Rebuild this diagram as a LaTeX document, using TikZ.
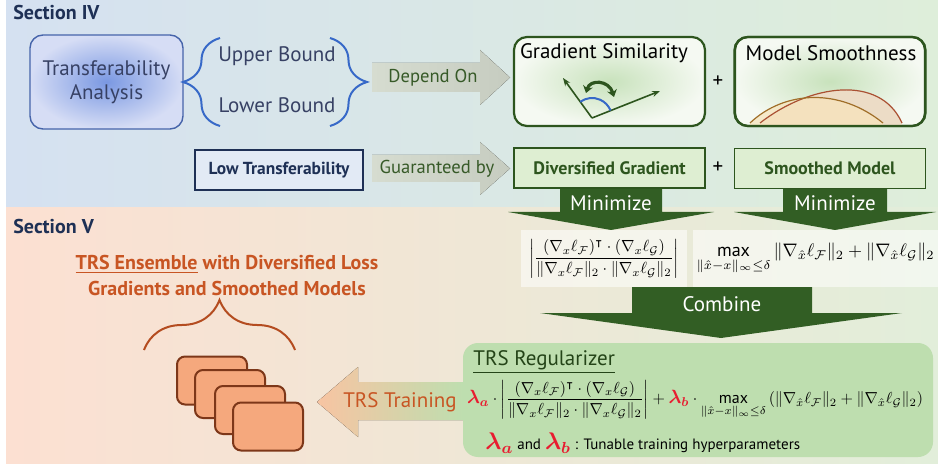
\documentclass[tikz,border=0pt]{standalone}
\usepackage{amsmath,amssymb}
\usepackage{graphicx}
\usepackage{fontspec}
\setmainfont{PT Sans}
\usetikzlibrary{decorations.pathreplacing,arrows.meta}
\definecolor{secblue}{RGB}{30,48,85}
\definecolor{topleft}{RGB}{213,225,241}
\definecolor{topmid}{RGB}{218,232,234}
\definecolor{topright}{RGB}{222,238,218}
\definecolor{botleft}{RGB}{252,224,210}
\definecolor{botmid}{RGB}{246,232,212}
\definecolor{botright}{RGB}{226,238,218}
\definecolor{tablue}{RGB}{70,100,170}
\definecolor{tainner}{RGB}{122,152,226}
\definecolor{taouter}{RGB}{214,221,245}
\definecolor{tatext}{RGB}{55,65,100}
\definecolor{braceblue}{RGB}{55,105,200}
\definecolor{greyarr}{RGB}{198,204,192}
\definecolor{greyarrl}{RGB}{214,220,208}
\definecolor{darkgreen}{RGB}{45,85,30}
\definecolor{arrgreen}{RGB}{50,94,36}
\definecolor{textgreen}{RGB}{55,90,40}
\definecolor{lightgreen}{RGB}{222,238,210}
\definecolor{glowin}{RGB}{200,226,188}
\definecolor{glowout}{RGB}{245,249,242}
\definecolor{regfill}{RGB}{190,222,175}
\definecolor{lamred}{RGB}{232,28,48}
\definecolor{peach}{RGB}{248,196,162}
\definecolor{trsorange}{RGB}{200,85,35}
\definecolor{modfill}{RGB}{245,168,125}
\definecolor{modline}{RGB}{125,55,25}
\definecolor{bellA}{RGB}{160,110,40}
\definecolor{bellB}{RGB}{170,80,50}
\newcommand{\lamA}{\textcolor{lamred}{\boldsymbol{\lambda_a}}}
\newcommand{\lamB}{\textcolor{lamred}{\boldsymbol{\lambda_b}}}
\newcommand{\gradsim}{\left|\frac{(\nabla_x\ell_{\mathcal F})^{\intercal}\cdot(\nabla_x\ell_{\mathcal G})}{\|\nabla_x\ell_{\mathcal F}\|_2\cdot\|\nabla_x\ell_{\mathcal G}\|_2}\right|}
\newcommand{\maxsm}{\max_{\|\hat x-x\|_\infty\leq\delta}}
\begin{document}
\begin{tikzpicture}[x=0.5pt,y=-0.5pt]
	\tikzstyle{sec}=[font=\fontsize{10}{12}\selectfont\bfseries, text=secblue, anchor=west, inner sep=0pt]
	\tikzstyle{plain}=[font=\fontsize{10.5}{12}\selectfont]
	\tikzstyle{topbox}=[rectangle, rounded corners=6.5pt, draw=darkgreen, line width=1.1pt, inner color=glowin, outer color=glowout, minimum width=95.5pt, minimum height=44.5pt]
	\tikzstyle{lowbox}=[rectangle, draw=darkgreen, line width=0.7pt, fill=lightgreen, minimum width=95.5pt, minimum height=20pt, font=\fontsize{9}{11}\selectfont\bfseries, text=darkgreen]
	\tikzstyle{greyarrow}=[left color=greyarrl, right color=greyarr, draw=none]
	\tikzstyle{fatarrow}=[fill=arrgreen, draw=none]
	\tikzstyle{arrtext}=[font=\fontsize{9.3}{11}\selectfont, text=textgreen]
	\tikzstyle{whitetext}=[font=\fontsize{10.5}{12}\selectfont, text=white]
	\tikzstyle{formbox}=[rectangle, fill=white, fill opacity=0.55, text opacity=1, minimum height=28.5pt, inner sep=0pt]
	\tikzstyle{bluebrace}=[decorate, decoration={brace, amplitude=18.5pt}, draw=braceblue, line width=1pt]
	\tikzstyle{model}=[rectangle, rounded corners=4pt, draw=modline, line width=1pt, fill=modfill, minimum width=35pt, minimum height=24pt]
	\useasboundingbox (0,0) rectangle (938,465);
	\shade[left color=topleft, middle color=topmid, right color=topright] (6,0) rectangle (938,208);
	\shade[left color=botleft, middle color=botmid, right color=botright] (6,208) rectangle (938,463);

	\draw node[sec] at (13,13) (s4) {Section IV};
	\draw node[sec] at (13,227) (s5) {Section V};

	\draw node[rectangle, rounded corners=6.5pt, draw=tablue, line width=0.7pt, inner color=tainner, outer color=taouter, minimum width=76.5pt, minimum height=47pt, align=center, plain, text=tatext] at (106.5, 82) (ta) {Transferability\\Analysis};
	\draw node[plain, text=tatext] at (277, 56) (ub) {Upper Bound};
	\draw node[plain, text=tatext] at (277, 105) (lb) {Lower Bound};
	\coordinate (lbtop) at (220, 38);
	\coordinate (lbbot) at (220, 126);
	\coordinate (rbtop) at (330, 38);
	\coordinate (rbbot) at (330, 126);
	\draw [bluebrace] (lbbot) -- (lbtop);
	\draw [bluebrace] (rbtop) -- (rbbot);

	\fill [greyarrow] (372,63) -- (480,63) -- (480,50) -- (510,77.5) -- (480,105) -- (480,92) -- (372,92) -- cycle;
	\draw node[arrtext] at (433, 77.5) (dep) {Depend On};
	\fill [greyarrow] (372,155) -- (480,155) -- (480,142) -- (510,168.5) -- (480,195) -- (480,182) -- (372,182) -- cycle;
	\draw node[arrtext] at (437, 168.5) (guar) {Guaranteed by};

	\fill [fatarrow] (560,186) -- (662,186) -- (662,212) -- (714,212) -- (611,230) -- (508,212) -- (560,212) -- cycle;
	\fill [fatarrow] (783,186) -- (887,186) -- (887,212) -- (936,212) -- (835,230) -- (734,212) -- (783,212) -- cycle;
	\fill [fatarrow] (632,287) -- (812,287) -- (812,313) -- (902,313) -- (721,338) -- (540,313) -- (632,313) -- cycle;
	\fill [left color=peach, right color=regfill] (463,382) -- (358,382) -- (358,367) -- (317,402) -- (358,437) -- (358,420) -- (463,420) -- cycle;

	\draw node[topbox] at (609.5, 81.5) (gs) {};
	\draw node[plain, text=black] at (604, 53) (gst) {Gradient Similarity};
	\draw [darkgreen, line width=0.8pt, -{Stealth[length=4pt]}] (592,118) -- (563,78);
	\draw [darkgreen, line width=0.8pt, -{Stealth[length=4pt]}] (592,118) -- (660,91);
	\draw [braceblue, line width=1pt] (592,118) ++(-126:20) arc[start angle=-126, end angle=-22, radius=20];
	\draw [darkgreen, line width=1.6pt, {Stealth[length=3.5pt,width=5pt]}-{Stealth[length=3.5pt,width=5pt]}] (586,93) .. controls (590,79) and (609,80) .. (614,97);

	\draw node[topbox] at (830, 81.5) (ms) {};
	\begin{scope}
		\clip[rounded corners=6.5pt] (735,37) rectangle (925,126);
		\fill [fill={rgb,255:red,236;green,220;blue,198}] (760,126) -- (760,123) .. controls (810,84) and (880,74) .. (902,123) -- (902,126) -- cycle;
		\fill [fill={rgb,255:red,247;green,228;blue,188}, fill opacity=0.75] (750,126) -- (750,123) .. controls (785,90) and (840,88) .. (883,123) -- (883,126) -- cycle;
		\draw [bellB, line width=0.6pt] (760,123) .. controls (810,84) and (880,74) .. (902,123);
		\draw [bellA, line width=0.6pt] (750,123) .. controls (785,90) and (840,88) .. (883,123);
	\end{scope}
	\draw [darkgreen, line width=1.1pt, rounded corners=6.5pt] (735,37) rectangle (925,126);
	\draw node[plain, text=black] at (831, 53) (mst) {Model Smoothness};
	\draw node[plain] at (718, 82) (p1) {+};

	\draw node[rectangle, draw=secblue, line width=0.8pt, fill=topleft!70!white, minimum width=84pt, minimum height=20pt, font=\fontsize{8.7}{11}\selectfont\bfseries, text=secblue] at (279, 170) (lt) {Low Transferability};
	\draw node[lowbox] at (609.5, 168) (dg) {Diversified Gradient};
	\draw node[lowbox] at (830, 168.5) (sm) {Smoothed Model};
	\draw node[plain] at (718, 168) (p2) {+};

	\draw node[whitetext] at (611, 203) (min1) {Minimize};
	\draw node[whitetext] at (835, 203) (min2) {Minimize};
	\draw node[whitetext] at (722, 304) (comb) {Combine};

	\draw node[formbox, minimum width=83pt] at (604, 258.5) (f1) {\resizebox{75pt}{!}{$\displaystyle\gradsim$}};
	\draw node[formbox, minimum width=122.5pt] at (815.5, 258.5) (f2) {\resizebox{119pt}{!}{$\displaystyle\maxsm\|\nabla_{\hat x}\ell_{\mathcal F}\|_2+\|\nabla_{\hat x}\ell_{\mathcal G}\|_2$}};

	\draw node[rectangle, rounded corners=7.5pt, fill=regfill, minimum width=235pt, minimum height=57pt] at (698, 400) (reg) {};
	\draw node[anchor=west, font=\fontsize{10.5}{12}\selectfont, text=darkgreen!80!black, inner sep=0pt] at (473, 362) (regt) {\underline{TRS Regularizer}};
	\draw node[inner sep=0pt] at (695, 400) (regf) {\resizebox{228pt}{!}{$\displaystyle\text{\large$\lamA$}\cdot\gradsim+\text{\large$\lamB$}\cdot\maxsm\left(\|\nabla_{\hat x}\ell_{\mathcal F}\|_2+\|\nabla_{\hat x}\ell_{\mathcal G}\|_2\right)$}};
	\draw node[anchor=west, font=\fontsize{7.5}{10}\selectfont, inner sep=0pt] at (485, 443) (hyp) {{\large$\lamA$} and {\large$\lamB$} : Tunable training hyperparameters};

	\draw node[font=\fontsize{10.5}{12}\selectfont, text=trsorange] at (400, 402) (trn) {TRS Training};

	\draw node[align=center, font=\fontsize{10}{13}\selectfont\bfseries, text=trsorange] at (227, 275) (title) {\underline{TRS Ensemble} with Diversified Loss\\Gradients and Smoothed Models};
	\draw [decorate, decoration={brace, amplitude=25pt}, draw=trsorange!90!black, line width=1pt] (144,350) -- (295,350);

	\draw node[model] at (212, 380.5) (m1) {};
	\draw node[model] at (230, 394) (m2) {};
	\draw node[model] at (250, 410) (m3) {};
	\draw node[model] at (268, 426.5) (m4) {};
\end{tikzpicture}
\end{document}
